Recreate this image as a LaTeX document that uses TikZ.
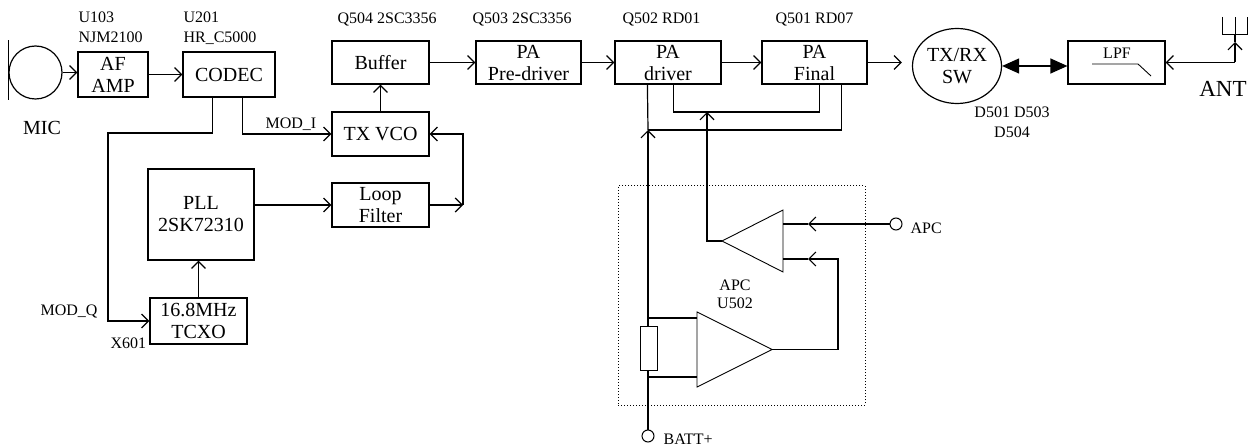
\documentclass[tikz,border=0pt]{standalone}
\usepackage{fontspec}
\setmainfont{Liberation Serif}
\usepackage{tikz}
\usetikzlibrary{shapes,shapes.geometric,arrows.meta,positioning,calc}

\begin{document}
\begin{tikzpicture}[
    x=1pt, y=-1pt,
    line width=1.2pt,
    font=\fontsize{20}{22}\selectfont,
    blk/.style={rectangle, draw, minimum width=97pt, minimum height=43pt, inner sep=0pt, align=center},
    lbl/.style={inner sep=0pt, font=\fontsize{16}{20}\selectfont, align=left},
    sig/.style={-{Straight Barb[length=7pt,width=14pt]}},
    dbl/.style={{Triangle[length=17pt,width=15pt]}-{Triangle[length=17pt,width=15pt]}},
    term/.style={circle, draw, line width=1pt, minimum size=12pt, inner sep=0pt},
    thinln/.style={line width=0.9pt}
]
    \useasboundingbox (0,0) rectangle (1252,446);

    % --- APC block frame ---
    \node[draw, dotted, line width=1pt, minimum width=247pt, minimum height=219pt, inner sep=0pt] (apcblk) at (741.5,295.5) {};

    % --- Blocks ---
    \node[circle, draw, minimum size=53pt, inner sep=0pt] (mic) at (35.5,72.5) {};
    \node[blk, minimum width=70pt, minimum height=45pt] (afamp) at (113,74.5) {AF\\AMP};
    \node[blk, minimum width=92pt, minimum height=45pt] (codec) at (229,74.5) {CODEC};
    \node[blk] (buffer) at (380.5,62.5) {Buffer};
    \node[blk, minimum width=105pt] (predrv) at (528.5,62.5) {PA\\Pre-driver};
    \node[blk, minimum width=106pt] (driver) at (668,62.5) {PA\\driver};
    \node[blk, minimum width=105pt] (final) at (814.5,62.5) {PA\\Final};
    \node[blk, minimum height=44pt] (txvco) at (380.5,134) {TX VCO};
    \node[blk, minimum height=44pt] (loop) at (380.5,205) {Loop\\Filter};
    \node[blk, minimum width=106pt, minimum height=91pt] (pll) at (201,214.5) {PLL\\2SK72310};
    \node[blk, minimum height=46pt] (tcxo) at (198.5,321) {16.8MHz\\TCXO};
    \node[ellipse, draw, minimum width=89pt, minimum height=75pt, inner sep=0pt, align=center] (sw) at (957,66) {TX/RX\\SW};
    \node[blk] (lpf) at (1116.5,62.5) {};

    % --- Labels ---
    \node[lbl, anchor=north west] (u103) at (78,11) {U103\\NJM2100};
    \node[lbl, anchor=north west] (u201) at (183,11) {U201\\HR\_C5000};
    \node[lbl, anchor=north west] (q504) at (337,12) {Q504 2SC3356};
    \node[lbl, anchor=north west] (q503) at (472,12) {Q503 2SC3356};
    \node[lbl, anchor=north west] (q502) at (622,12) {Q502 RD01};
    \node[lbl, anchor=north west] (q501) at (775,12) {Q501 RD07};
    \node[lbl, anchor=north west] (modilbl) at (265,117) {MOD\_I};
    \node[lbl, anchor=north west] (modqlbl) at (40,304) {MOD\_Q};
    \node[lbl, anchor=north west] (x601) at (110,337) {X601};
    \node[lbl, anchor=north, align=center] (swdiodes) at (1012,106) {D501 D503\\D504};
    \node[lbl, anchor=north, align=center, font=\fontsize{16}{18}\selectfont] (apcu502) at (735,279) {APC\\U502};
    \node[lbl, anchor=north west] (apclbl) at (910,222) {APC};
    \node[lbl, anchor=north west] (battlbl) at (663,433) {BATT+};
    \node[lbl] (lpflbl) at (1117,53) {LPF};
    \node[inner sep=0pt] (miclbl) at (42,128) {MIC};
    \node[inner sep=0pt, font=\fontsize{23}{25}\selectfont] (antlbl) at (1223,89) {ANT};

    % --- Mic and antenna symbols ---
    \draw ([yshift=32pt]mic.west) -- ([yshift=-28pt]mic.west);
    \coordinate (antc) at (1235,62.5);
    \coordinate (antup) at (1235,42);
    \coordinate (antfoot) at (1235,34);
    \draw[thinln] (1222,17) -- (1222,34) -- (1247,34) -- (1247,17);
    \draw[thinln] (antfoot) -- (1235,17);
    \draw[thinln] (1092,64) -- (1138,64) -- (1151,76);

    % --- TX chain ---
    \draw[sig] (mic.east) -- (mic.east -| afamp.west);
    \draw[sig] (afamp) -- (codec);
    \draw[sig] (txvco) -- (buffer);
    \draw[sig] (buffer) -- (predrv);
    \draw[sig] (predrv) -- (driver);
    \draw[sig] (driver) -- (final);
    \draw[sig] (final.east) -- ($(sw.west |- final.east)+(-10,0)$);
    \draw[dbl] (sw.east) -- (sw.east -| lpf.west);
    \draw[sig] (antc) -- (lpf.east);
    \draw[sig] (antc) -- (antup);
    \draw (antup) -- (antfoot);

    % --- Modulation and PLL loop ---
    \coordinate (modi) at ($(codec.south east)+(-33,0)$);
    \coordinate (modq) at ($(codec.south west)+(30,0)$);
    \coordinate (modqbend) at (108,133);
    \draw[sig] (modi) |- (txvco.west);
    \draw[sig] (modq) |- (modqbend) |- (tcxo.west);
    \draw[sig] (tcxo.north) -- (tcxo.north |- pll.south);
    \draw[sig] (pll.east |- loop.west) -- (loop.west);
    \coordinate (lfout) at (463,205);
    \draw[sig] (loop.east) -- (lfout);
    \draw[sig] (lfout) |- (txvco.east);

    % --- Bias and supply lines ---
    \coordinate (dsup) at ($(driver.south west)+(33,0)$);
    \coordinate (dgate) at ($(driver.south west)+(59,0)$);
    \coordinate (fgate) at ($(final.south west)+(58,0)$);
    \coordinate (fsup) at ($(final.south east)+(-26,0)$);
    \coordinate (supj) at (648,130);
    \coordinate (gatej) at (707,112);
    \draw (dgate) |- (gatej) -| (fgate);
    \draw (supj) -- (dsup);
    \draw (supj) -| (fsup);
    \node[term] (batt) at (648,436) {};
    \draw[sig] (batt.north) -- (supj);

    % --- APC loop ---
    \coordinate (rtop) at (648,318);
    \coordinate (rbot) at (648,377);
    \coordinate (a2inp) at (697,318);
    \coordinate (a2inn) at (697,377);
    \coordinate (a2out) at (772,349.5);
    \coordinate (a1inp) at (783,224);
    \coordinate (a1inn) at (783,259);
    \coordinate (a1out) at (722,241);
    \draw (rtop) -- (a2inp);
    \draw (rbot) -- (a2inn);
    \node[rectangle, draw, thinln, fill=white, minimum width=17pt, minimum height=44pt, inner sep=0pt] (rsense) at (649,348) {};
    \draw[thinln] (697,312) -- (697,387) -- (a2out) -- cycle;
    \draw[thinln] (783,210) -- (783,272) -- (a1out) -- cycle;
    \draw[sig] (a1out) -| (gatej);
    \node[term] (apcin) at (896,224) {};
    \coordinate (apcmid) at (808,224);
    \draw[sig] (apcin.west) -- (apcmid);
    \draw (apcmid) -- (a1inp);
    \coordinate (fbc) at (838,259);
    \coordinate (fbmid) at (808,259);
    \draw[sig] (a2out) -| (fbc) -- (fbmid);
    \draw (fbmid) -- (a1inn);

\end{tikzpicture}
\end{document}
